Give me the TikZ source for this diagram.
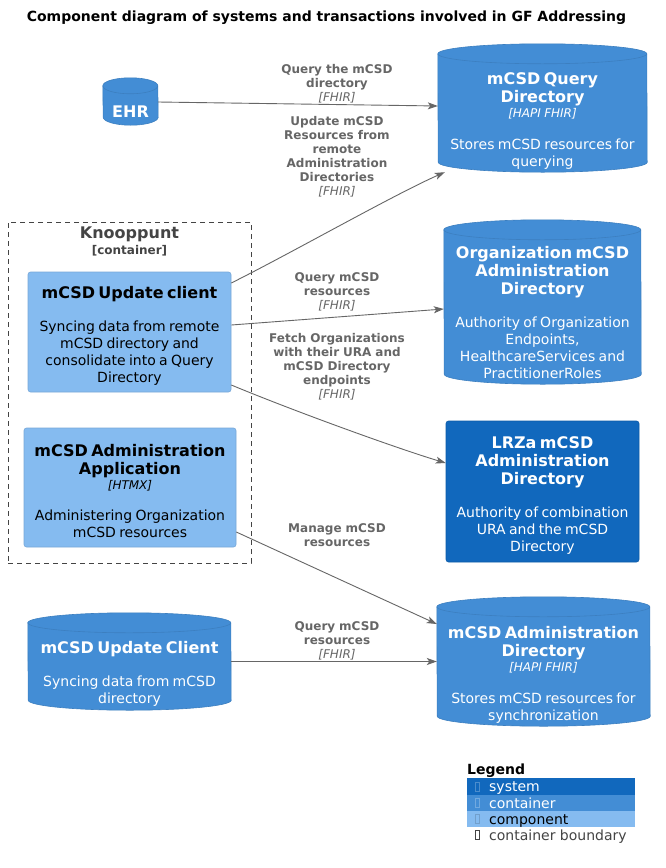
\documentclass[tikz,border=0pt]{standalone}
\usepackage{fontspec}
\setmainfont{DejaVu Sans}
\usetikzlibrary{arrows.meta,positioning}

\definecolor{systemblue}{HTML}{1168BD}
\definecolor{systemline}{HTML}{0E5CA8}
\definecolor{contblue}{HTML}{438DD5}
\definecolor{contline}{HTML}{3C7FC0}
\definecolor{compblue}{HTML}{85BBF0}
\definecolor{compline}{HTML}{78A8D8}
\definecolor{relgray}{HTML}{666666}
\definecolor{bndgray}{HTML}{444444}

% element and relation texts
\newcommand{\elname}[1]{{\fontsize{16}{18}\selectfont\bfseries\rule{0pt}{20pt}#1\par}}
\newcommand{\eltech}[1]{{\fontsize{12}{15}\selectfont\itshape [#1]\par}}
\newcommand{\eldesc}[2][16pt]{\vspace{#1}{\fontsize{14}{17}\selectfont #2\par}}
\newcommand{\relname}[1]{{\bfseries #1\par}}
\newcommand{\reltech}[1]{{\itshape [#1]\par}}
% database body drawn round an empty node: name, half width, cap radius
\newcommand{\dbcylinder}[3]{%
  \filldraw[dbbody] ([yshift=-#3]#1.north west)
    arc[start angle=180, end angle=0, x radius=#2, y radius=#3]
    -- ([yshift=#3]#1.south east)
    arc[start angle=0, end angle=-180, x radius=#2, y radius=#3] -- cycle;
  \draw[dbcap] ([yshift=-#3]#1.north west)
    arc[start angle=180, end angle=360, x radius=#2, y radius=#3];
}

\begin{document}
\begin{tikzpicture}[x=1pt,y=-1pt,
  every node/.style={inner sep=0pt},
  elbox/.style={rectangle, rounded corners=2.5pt, align=center, line width=0.6pt},
  compbox/.style={elbox, fill=compblue, draw=compline, text=black},
  sysbox/.style={elbox, fill=systemblue, draw=systemline, text=white},
  dbnode/.style={rectangle},
  dbbody/.style={fill=contblue, draw=contline, line width=0.6pt},
  dbcap/.style={draw=contline, line width=0.6pt},
  dbtext/.style={align=center, text=white, text width=210pt},
  rellabel/.style={align=center, text=relgray, text width=160pt, font=\fontsize{12}{14}\selectfont},
  rel/.style={draw=relgray, line width=0.9pt, -{Stealth[length=10pt,width=7pt,inset=2.5pt]}},
  boundary/.style={draw=bndgray, dash pattern=on 5pt off 4pt, line width=0.8pt},
  legbar/.style={anchor=west, minimum width=168pt, minimum height=16.5pt},
  legtext/.style={anchor=base west, font=\fontsize{14}{16}\selectfont},
  legicon/.style={draw, minimum width=4.5pt, minimum height=9pt, line width=0.5pt}
]
\useasboundingbox[fill=white] (0,0) rectangle (665,868);

\node[font=\fontsize{14}{16}\selectfont\bfseries] (title) at (326.5,18)
  {Component diagram of systems and transactions involved in GF Addressing};

% left column
\node[dbnode, minimum width=55pt, minimum height=47pt] (ehr) at (130.5,101.5) {};
\dbcylinder{ehr}{27.5pt}{8pt}
\node[dbtext, text width=55pt] (ehrtext) at (130.5,107) {\elname{EHR}};

\node[boundary, minimum width=243pt, minimum height=341pt] (knoop) at (129.5,392.5) {};
\node[text=bndgray, font=\fontsize{16}{18}\selectfont\bfseries] (knooptitle) at (129.5,234) {Knooppunt};
\node[text=bndgray, font=\fontsize{12}{14}\selectfont\bfseries, below=3pt of knooptitle] (knooptype) {[container]};

\node[compbox, text width=203pt, minimum height=120pt] (upd) at (129.5,332)
  {\elname{mCSD Update client}\eldesc{Syncing data from remote\\mCSD directory and\\consolidate into a Query\\Directory}};
\node[compbox, text width=212pt, minimum height=119pt] (adminapp) at (130,487.5)
  {\elname{mCSD Administration\\Application}\eltech{HTMX}\eldesc[14pt]{Administering Organization\\mCSD resources}};

\node[dbnode, minimum width=203pt, minimum height=97pt] (updcyl) at (129.5,661.5) {};
\dbcylinder{updcyl}{101.5pt}{10pt}
\node[dbtext] (updcyltext) at (129.5,669.5)
  {\elname{mCSD Update Client}\eldesc{Syncing data from mCSD\\directory}};

% right column
\node[dbnode, minimum width=209pt, minimum height=128pt] (qdir) at (542.5,108) {};
\dbcylinder{qdir}{104.5pt}{10pt}
\node[dbtext] (qdirtext) at (542.5,117)
  {\elname{mCSD Query\\Directory}\eltech{HAPI FHIR}\eldesc[15pt]{Stores mCSD resources for\\querying}};

\node[dbnode, minimum width=197pt, minimum height=164pt] (org) at (542.5,302) {};
\dbcylinder{org}{98.5pt}{10pt}
\node[dbtext] (orgtext) at (542.5,309)
  {\elname{Organization mCSD\\Administration\\Directory}\eldesc{Authority of Organization\\Endpoints,\\HealthcareServices and\\PractitionerRoles}};

\node[sysbox, text width=193pt, minimum height=141pt] (lrza) at (542.5,491.5)
  {\elname{LRZa mCSD\\Administration\\Directory}\eldesc{Authority of combination\\URA and the mCSD\\Directory}};

\node[dbnode, minimum width=213pt, minimum height=129pt] (admdir) at (543.5,661.5) {};
\dbcylinder{admdir}{106.5pt}{10pt}
\node[dbtext] (admdirtext) at (543.5,671)
  {\elname{mCSD Administration\\Directory}\eltech{HAPI FHIR}\eldesc[15pt]{Stores mCSD resources for\\synchronization}};

% relations
\draw[rel] ([yshift=-0.5pt]ehr.east) -- ([yshift=2pt]qdir.west);
\node[rellabel] (lblehr) at (337,84) {\relname{Query the mCSD\\directory}\reltech{FHIR}};

\draw[rel] ([yshift=49pt]upd.east) .. controls +(60,-30) and +(-50,22) .. ([xshift=7pt]qdir.south west);
\node[rellabel] (lblupdq) at (337,157)
  {\relname{Update mCSD\\Resources from\\remote\\Administration\\Directories}\reltech{FHIR}};

\draw[rel] ([yshift=7pt]upd.east) -- ([yshift=-7pt]org.west);
\node[rellabel] (lblupdorg) at (337,291.5) {\relname{Query mCSD\\resources}\reltech{FHIR}};

\draw[rel] ([yshift=-53pt]upd.east) .. controls +(60,25) and +(-50,-15) .. ([yshift=28.5pt]lrza.west);
\node[rellabel] (lblupdlrza) at (337,367)
  {\relname{Fetch Organizations\\with their URA and\\mCSD Directory\\endpoints}\reltech{FHIR}};

\draw[rel] ([yshift=-44.5pt]adminapp.east) -- ([yshift=37.5pt]admdir.west);
\node[rellabel] (lbladmin) at (337,535.5) {\relname{Manage mCSD\\resources}};

\draw[rel] (updcyl.east) -- (admdir.west);
\node[rellabel] (lblupdadm) at (337,641) {\relname{Query mCSD\\resources}\reltech{FHIR}};

% legend
\node[anchor=base west, font=\fontsize{14}{16}\selectfont\bfseries] (legtitle) at (467,774) {Legend};
\node[legbar, fill=systemblue] (legsys) at (467,786.5) {};
\node[legbar, fill=contblue] (legcont) at (467,803) {};
\node[legbar, fill=compblue] (legcomp) at (467,819) {};
\node[legicon, draw=white, draw opacity=0.25] (iconsys) at (477,786.5) {};
\node[legicon, draw=white, draw opacity=0.25] (iconcont) at (477,803) {};
\node[legicon, draw=black, draw opacity=0.15] (iconcomp) at (477,819) {};
\node[legicon, draw=bndgray] (iconbnd) at (477,835) {};
\node[legtext, text=white] (txtsys) at (489,791.5) {system};
\node[legtext, text=white] (txtcont) at (489,808) {container};
\node[legtext, text=black] (txtcomp) at (489,824) {component};
\node[legtext, text=bndgray] (txtbnd) at (489,840) {container boundary};
\end{tikzpicture}
\end{document}
